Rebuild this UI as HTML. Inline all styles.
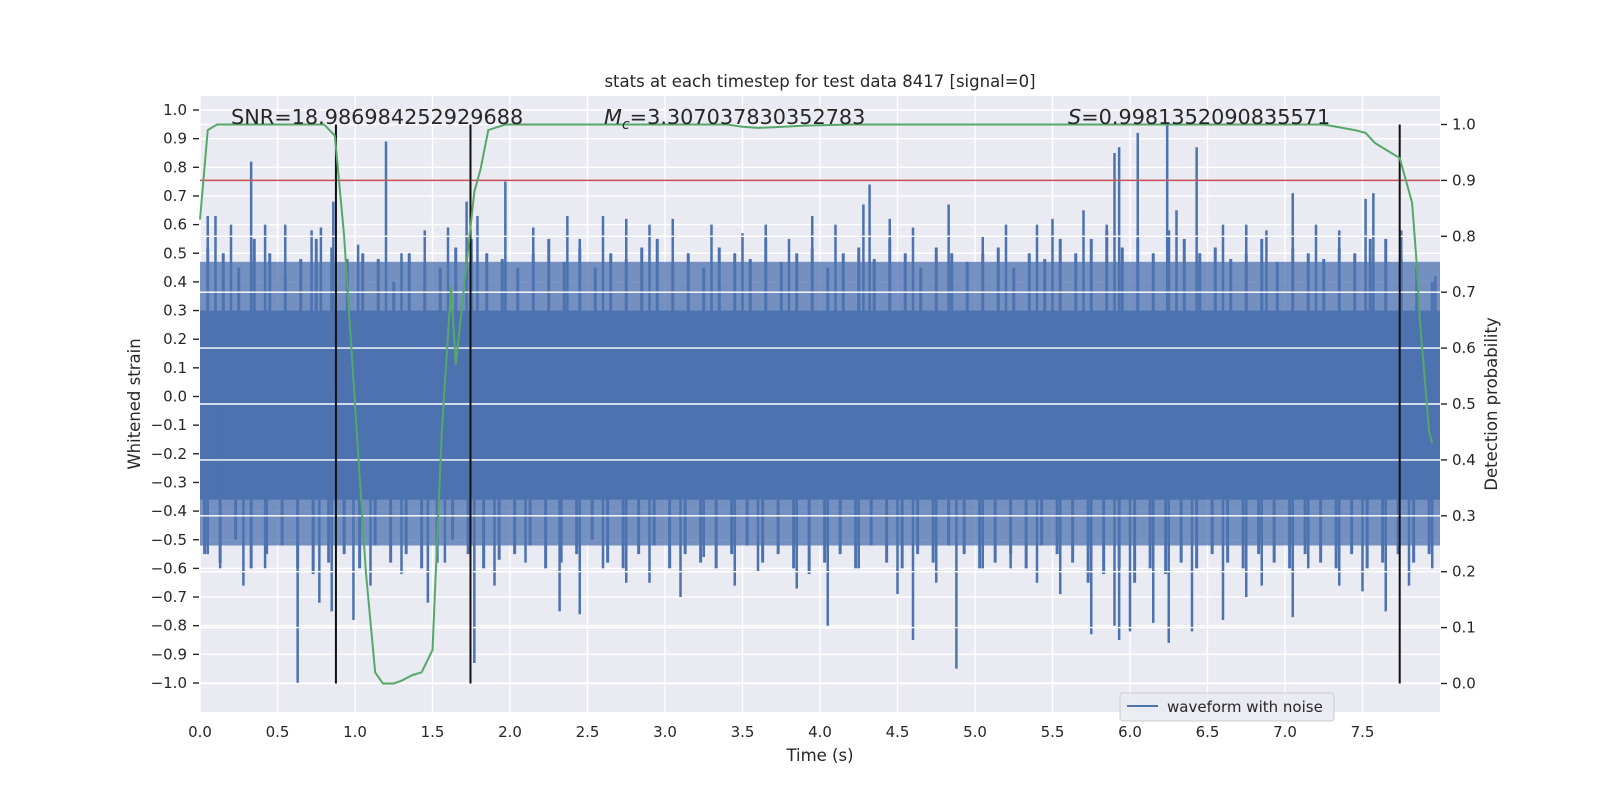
<!DOCTYPE html>
<html><head><meta charset="utf-8"><style>
html,body{margin:0;padding:0;background:#fff;}
svg{display:block;font-family:"DejaVu Sans","Liberation Sans",sans-serif;}
</style></head><body>
<div style="position:relative;width:1600px;height:800px;">
<svg id="chart" width="1600" height="800" viewBox="0 0 1600 800" xmlns="http://www.w3.org/2000/svg" style="position:absolute;left:0;top:0;"></svg>
<svg width="1600" height="800" style="position:absolute;left:0;top:0;font-family:'DejaVu Sans','Liberation Sans',sans-serif;" xmlns="http://www.w3.org/2000/svg">
<text x="820" y="87" text-anchor="middle" font-size="16.5" fill="#262626">stats at each timestep for test data 8417 [signal=0]</text>
<text x="231" y="124" font-size="20.8" fill="#262626">SNR=18.986984252929688</text>
<text x="604" y="124" font-size="20.8" fill="#262626"><tspan font-style="italic">M</tspan><tspan font-style="italic" font-size="14" dy="5">c</tspan><tspan dy="-5">=3.307037830352783</tspan></text>
<text x="1068" y="124" font-size="20.8" fill="#262626"><tspan font-style="italic">S</tspan>=0.9981352090835571</text>
<text x="820" y="761" text-anchor="middle" font-size="16.5" fill="#262626">Time (s)</text>
<text transform="translate(140,404) rotate(-90)" text-anchor="middle" font-size="16.5" fill="#262626">Whitened strain</text>
<text transform="translate(1497,404) rotate(-90)" text-anchor="middle" font-size="16.5" fill="#262626">Detection probability</text>
<g>
<rect x="1120" y="693" width="214" height="28" rx="3" fill="#EAEAF2" fill-opacity="0.85" stroke="#ccc"/>
<line x1="1127" x2="1158" y1="706" y2="706" stroke="#4C72B0" stroke-width="2"/>
<text x="1167" y="712" font-size="15" fill="#262626">waveform with noise</text>
</g>
</svg>
</div>
<script>
// ---- data ----
const xTicks = [0,0.5,1,1.5,2,2.5,3,3.5,4,4.5,5,5.5,6,6.5,7,7.5];
const leftTicks = [-1,-0.9,-0.8,-0.7,-0.6,-0.5,-0.4,-0.3,-0.2,-0.1,0,0.1,0.2,0.3,0.4,0.5,0.6,0.7,0.8,0.9,1.0];
const rightTicks = [0,0.1,0.2,0.3,0.4,0.5,0.6,0.7,0.8,0.9,1.0];
const bandHi = 0.30, bandLo = -0.36, fringeHi = 0.47, fringeLo = -0.52;
const midHi = [0.52,0.5,0.45,0.55,0.5,0.42,0.48,0.55,0.52,0.45,0.5,0.48,0.4,0.5,0.47,0.45,0.52,0.55,0.5,0.48,0.45,0.5,0.55,0.47,0.52,0.45,0.5,0.48,0.52,0.55,0.47,0.5,0.45,0.52,0.5,0.48,0.55,0.47,0.5,0.52,0.45,0.5,0.52,0.48,0.55,0.5,0.45,0.52,0.5,0.47,0.5,0.52,0.45,0.5,0.48,0.55,0.5,0.55,0.58,0.52,0.55,0.5,0.58,0.55,0.5,0.52,0.48,0.5,0.55,0.47,0.52,0.5,0.48,0.52,0.5,0.55,0.55,0.48,0.45,0.4];
const midLo = [-0.55,-0.58,-0.5,-0.6,-0.55,-0.52,-0.6,-0.62,-0.58,-0.55,-0.6,-0.52,-0.58,-0.55,-0.6,-0.58,-0.5,-0.55,-0.6,-0.57,-0.55,-0.52,-0.6,-0.58,-0.55,-0.5,-0.58,-0.6,-0.55,-0.52,-0.6,-0.55,-0.58,-0.6,-0.55,-0.52,-0.58,-0.55,-0.6,-0.62,-0.58,-0.55,-0.6,-0.52,-0.58,-0.6,-0.55,-0.58,-0.52,-0.55,-0.6,-0.58,-0.55,-0.6,-0.52,-0.55,-0.58,-0.65,-0.62,-0.6,-0.65,-0.6,-0.62,-0.58,-0.6,-0.55,-0.58,-0.6,-0.55,-0.58,-0.6,-0.55,-0.58,-0.6,-0.55,-0.6,-0.58,-0.55,-0.58,-0.55];
const posT = [0.05,0.1,0.2,0.33,0.42,0.55,0.72,0.78,0.86,0.95,1.02,1.2,1.3,1.45,1.6,1.72,1.79,1.97,2.15,2.37,2.45,2.6,2.75,2.9,3.05,3.3,3.5,3.65,3.8,3.95,4.1,4.28,4.32,4.45,4.6,4.83,5.05,5.2,5.4,5.5,5.7,5.85,5.9,5.93,6.05,6.24,6.3,6.43,6.6,6.75,6.88,7.05,7.2,7.35,7.52,7.57,7.75,7.85,7.97];
const posV = [0.63,0.63,0.6,0.82,0.6,0.6,0.58,0.59,0.68,0.48,0.53,0.89,0.5,0.58,0.59,0.68,0.63,0.75,0.59,0.63,0.55,0.63,0.62,0.6,0.62,0.6,0.57,0.6,0.55,0.63,0.6,0.67,0.74,0.62,0.59,0.67,0.56,0.6,0.6,0.62,0.65,0.6,0.85,0.87,0.92,0.95,0.65,0.87,0.6,0.6,0.58,0.71,0.6,0.58,0.69,0.71,0.58,0.45,0.42];
const negT = [0.05,0.13,0.28,0.42,0.63,0.77,0.85,0.99,1.1,1.3,1.47,1.58,1.77,1.9,2.1,2.32,2.45,2.6,2.75,2.9,3.1,3.25,3.45,3.6,3.85,4.05,4.25,4.5,4.6,4.75,4.88,5.05,5.23,5.4,5.55,5.75,5.9,5.93,6.0,6.15,6.25,6.4,6.6,6.75,6.85,7.05,7.15,7.35,7.5,7.65,7.8,7.95];
const negV = [-0.55,-0.6,-0.66,-0.6,-1.0,-0.72,-0.75,-0.78,-0.66,-0.62,-0.72,-0.58,-0.93,-0.66,-0.58,-0.75,-0.76,-0.6,-0.65,-0.65,-0.7,-0.56,-0.66,-0.61,-0.67,-0.8,-0.6,-0.69,-0.85,-0.65,-0.95,-0.6,-0.6,-0.65,-0.69,-0.83,-0.8,-0.85,-0.82,-0.79,-0.86,-0.82,-0.78,-0.7,-0.66,-0.77,-0.6,-0.66,-0.68,-0.75,-0.66,-0.6];
const probT = [0,0.05,0.11,0.8,0.87,0.93,1.0,1.07,1.13,1.18,1.25,1.3,1.37,1.43,1.5,1.56,1.62,1.65,1.7,1.77,1.81,1.86,1.97,2.02,3.4,3.5,3.6,3.7,3.9,4.2,7.25,7.35,7.45,7.52,7.58,7.65,7.74,7.78,7.82,7.85,7.87,7.9,7.93,7.95];
const probV = [0.83,0.99,1.0,1.0,0.98,0.8,0.5,0.2,0.02,0.0,0.0,0.005,0.015,0.02,0.06,0.45,0.71,0.57,0.7,0.88,0.92,0.99,1.0,1.0,1.0,0.996,0.994,0.995,0.998,1.0,1.0,0.995,0.99,0.985,0.967,0.955,0.94,0.9,0.86,0.75,0.65,0.55,0.45,0.43];
const vlineT = [0.877,1.745,7.74];
const threshold = 0.9;

// ---- axes ----
const L=200,R=1440,T=96,B=712;
const X = t => L + t*(R-L)/8;
const YL = v => 396.5 - v*286.5;
const YR = p => 683.5 - p*559;
const svg = document.getElementById('chart');
const NS='http://www.w3.org/2000/svg';
function mk(tag, attrs, parent){const e=document.createElementNS(NS,tag);for(const k in attrs)e.setAttribute(k,attrs[k]);(parent||svg).appendChild(e);return e;}

const bg = mk('rect',{x:L,y:T,width:R-L,height:B-T,fill:'#EAEAF2'});



const gL = mk('g',{stroke:'#fff','stroke-width':1.4});


leftTicks.forEach(v=>mk('line',{x1:L,x2:R,y1:YL(v),y2:YL(v)},gL));
xTicks.forEach(t=>mk('line',{x1:X(t),x2:X(t),y1:T,y2:B},gL));

const wf = mk('g',{fill:'#4C72B0',stroke:'#4C72B0'});


mk('rect',{x:X(0),y:YL(fringeHi),width:X(8)-X(0),height:YL(fringeLo)-YL(fringeHi),'fill-opacity':0.75,stroke:'none'},wf);
mk('rect',{x:X(0),y:YL(bandHi),width:X(8)-X(0),height:YL(bandLo)-YL(bandHi),stroke:'none'},wf);
midHi.forEach((v,i)=>mk('line',{x1:X(0.05+0.1*i),x2:X(0.05+0.1*i),y1:YL(0),y2:YL(v),'stroke-width':3},wf));
midLo.forEach((v,i)=>mk('line',{x1:X(0.03+0.1*i),x2:X(0.03+0.1*i),y1:YL(0),y2:YL(v),'stroke-width':3},wf));
posT.forEach((t,i)=>mk('line',{x1:X(t),x2:X(t),y1:YL(0),y2:YL(posV[i]),'stroke-width':2.5},wf));
negT.forEach((t,i)=>mk('line',{x1:X(t),x2:X(t),y1:YL(0),y2:YL(negV[i]),'stroke-width':2.5},wf));

const gR = mk('g',{stroke:'#fff','stroke-width':1.4});


rightTicks.forEach(p=>mk('line',{x1:L,x2:R,y1:YR(p),y2:YR(p)},gR));

const th = mk('line',{x1:L,x2:R,y1:YR(threshold),y2:YR(threshold),stroke:'#C44E52','stroke-width':1.5});



vlineT.forEach(t=>{
  const l = mk('line',{x1:X(t),x2:X(t),y1:YR(0),y2:YR(1),stroke:'#111','stroke-width':2});
  
  
});

const pl = mk('polyline',{points:probT.map((t,i)=>X(t)+','+YR(probV[i])).join(' '),fill:'none',stroke:'#55A868','stroke-width':2});



const tk = mk('g',{fill:'#262626','font-size':15});


xTicks.forEach(t=>{const e=mk('text',{x:X(t),y:737,'text-anchor':'middle'},tk);e.textContent=t.toFixed(1);});
leftTicks.forEach(v=>{
  mk('line',{x1:193,x2:199,y1:YL(v),y2:YL(v),stroke:'#262626','stroke-width':1.4},tk);
  const e=mk('text',{x:187,y:YL(v)+5,'text-anchor':'end'},tk);e.textContent=(v<0?'\u2212':'')+Math.abs(v).toFixed(1);
});
rightTicks.forEach(p=>{
  mk('line',{x1:1441,x2:1447,y1:YR(p),y2:YR(p),stroke:'#262626','stroke-width':1.4},tk);
  const e=mk('text',{x:1452,y:YR(p)+5},tk);e.textContent=p.toFixed(1);
});
</script>
</body></html>
